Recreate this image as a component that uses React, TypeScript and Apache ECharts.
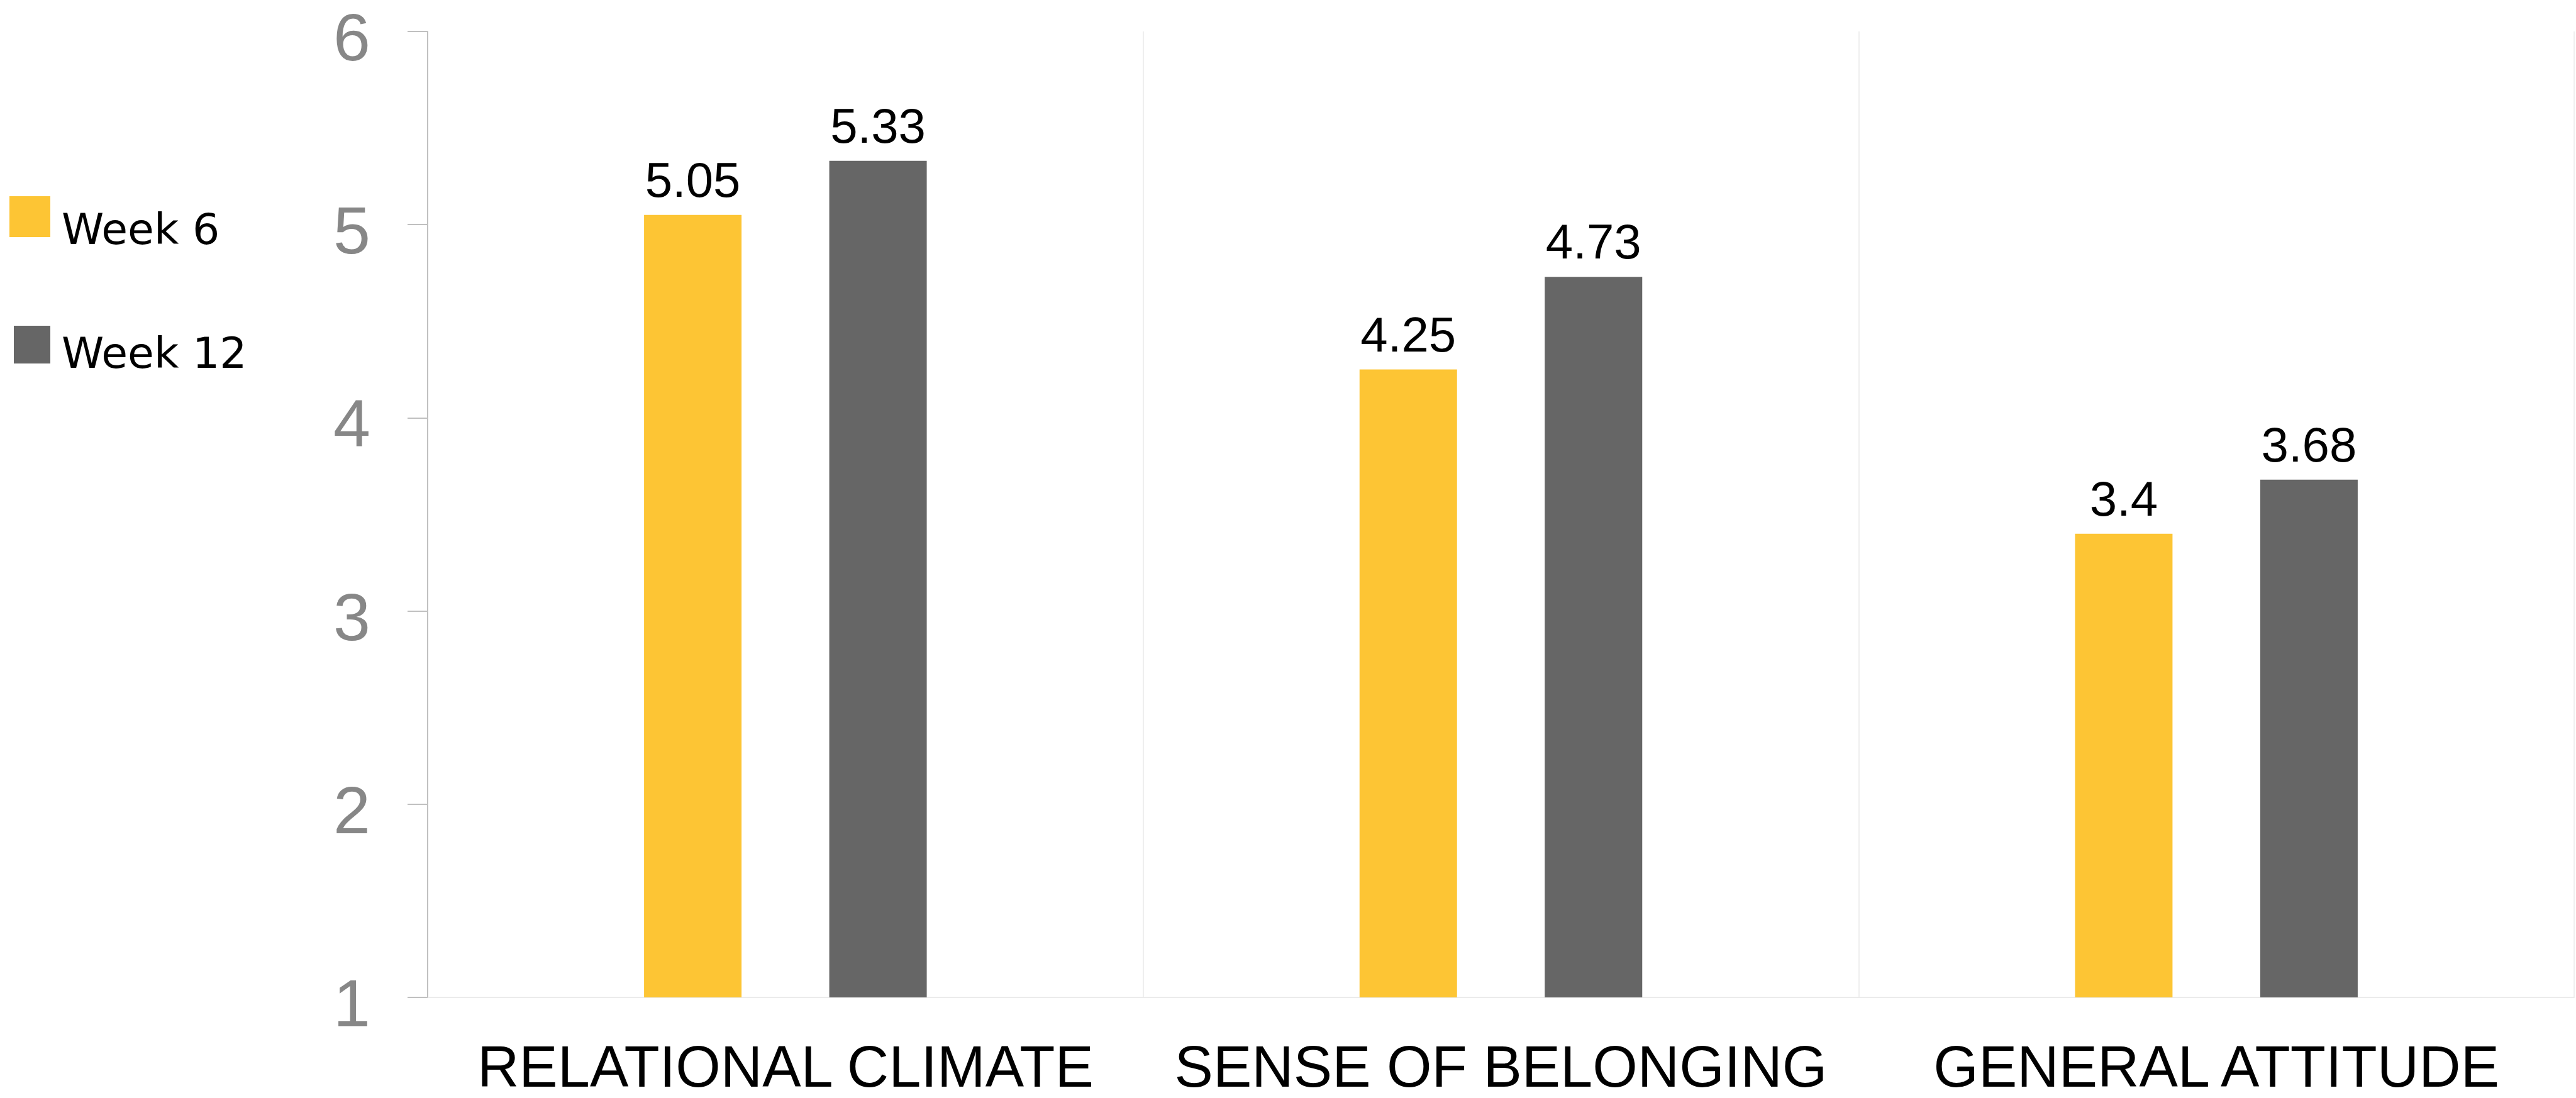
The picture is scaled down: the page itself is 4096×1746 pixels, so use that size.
import React, { useEffect, useRef } from "react";
import * as echarts from "echarts";

const categories = ["RELATIONAL CLIMATE", "SENSE OF BELONGING", "GENERAL ATTITUDE"];
const seriesNames = ["Week 6", "Week 12"];
const week6 = [5.05, 4.25, 3.4];
const week12 = [5.33, 4.73, 3.68];
const seriesColors = ["#FDC534", "#666666"];
const yMin = 1;
const yMax = 6;
const yInterval = 1;

const SANS = "'Liberation Sans', Arial, Helvetica, sans-serif";
const LEGEND_FONT = "'DejaVu Sans', sans-serif";

export default function App() {
  const ref = useRef<HTMLDivElement>(null);

  useEffect(() => {
    if (!ref.current) return;
    const chart = echarts.init(ref.current, undefined, { renderer: "svg" });
    const labelStyle = {
      show: true,
      position: "top",
      distance: 17,
      color: "#000",
      fontSize: 78,
      fontFamily: SANS,
    };
    chart.setOption({
      animation: false,
      backgroundColor: "#ffffff",
      grid: {
        left: 680,
        right: 3,
        top: 50,
        bottom: 160,
        containLabel: false,
        outerBoundsMode: "none",
      },
      graphic: [
        {
          type: "rect",
          left: 15,
          top: 312,
          shape: { width: 65, height: 65 },
          style: { fill: seriesColors[0] },
        },
        {
          type: "text",
          x: 98,
          y: 364,
          style: {
            text: seriesNames[0],
            fontFamily: LEGEND_FONT,
            fontSize: 68,
            fill: "#000",
            align: "left",
            verticalAlign: "middle",
          },
        },
        {
          type: "rect",
          left: 22,
          top: 518,
          shape: { width: 58, height: 60 },
          style: { fill: seriesColors[1] },
        },
        {
          type: "text",
          x: 98,
          y: 561,
          style: {
            text: seriesNames[1],
            fontFamily: LEGEND_FONT,
            fontSize: 68,
            fill: "#000",
            align: "left",
            verticalAlign: "middle",
          },
        },
      ],
      xAxis: {
        type: "category",
        data: categories,
        boundaryGap: true,
        axisLine: { show: true, lineStyle: { color: "#ebebeb", width: 2 } },
        axisTick: { show: false },
        axisLabel: {
          interval: 0,
          fontSize: 92,
          color: "#000",
          margin: 64,
          fontFamily: SANS,
        },
        splitLine: { show: true, interval: 0, lineStyle: { color: "#efefef", width: 2 } },
      },
      yAxis: {
        type: "value",
        min: yMin,
        max: yMax,
        interval: yInterval,
        axisLine: { show: true, lineStyle: { color: "#c0c0c0", width: 2 } },
        axisTick: { show: true, length: 32, lineStyle: { color: "#c0c0c0", width: 2 } },
        axisLabel: {
          formatter: "{v|{value}}",
          margin: 91,
          rich: {
            v: {
              fontSize: 106,
              lineHeight: 90,
              color: "#878787",
              fontFamily: SANS,
              padding: [18, 0, 0, 0],
            },
          },
        },
        splitLine: { show: false },
      },
      series: [
        {
          name: seriesNames[0],
          type: "bar",
          data: week6,
          barWidth: 155,
          barGap: "90%",
          itemStyle: { color: seriesColors[0] },
          label: labelStyle,
        },
        {
          name: seriesNames[1],
          type: "bar",
          data: week12,
          barWidth: 155,
          barGap: "90%",
          itemStyle: { color: seriesColors[1] },
          label: labelStyle,
        },
      ],
    });
    return () => chart.dispose();
  }, []);

  return (
    <div
      ref={ref}
      style={{ position: "fixed", left: 0, top: 0, width: 4096, height: 1746, background: "#fff" }}
    />
  );
}
